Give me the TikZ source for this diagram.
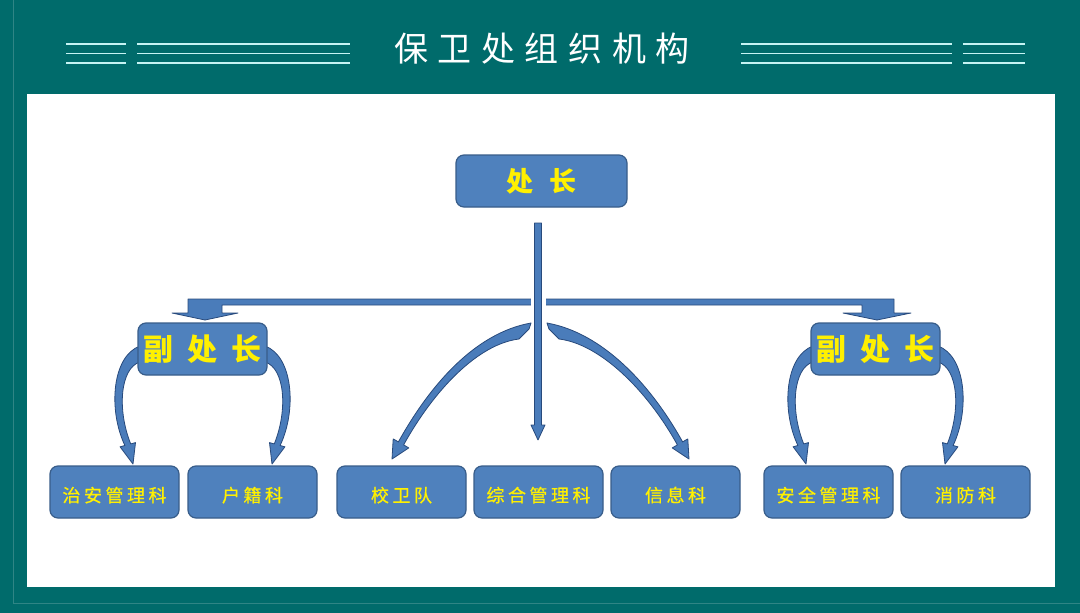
\documentclass[tikz,border=0pt]{standalone}
\usepackage{fontspec}
\newfontfamily\cjk{Noto Sans CJK SC}
\newfontfamily\cjkm[FakeBold=0.6]{Noto Sans CJK SC}
\definecolor{teal0}{HTML}{006B6B}
\definecolor{tealline}{HTML}{2F8585}
\definecolor{boxfill}{HTML}{4F81BD}
\definecolor{boxline}{HTML}{385D8A}
\definecolor{arrfill}{HTML}{4A7CBA}
\definecolor{arrline}{HTML}{284A7C}
\definecolor{hline}{HTML}{C6F4F4}
\definecolor{txtyel}{HTML}{FFF000}
\newcommand\depcurves{%
  \path[arrshape] (140,346) .. controls (112,356) and (108,410) .. (124.9,445.5)
    -- (120.1,446.8) -- (133,464) -- (135.5,442.6) -- (130.7,443.9)
    .. controls (117,410) and (120,368) .. (140,362) -- cycle;
  \path[arrshape] (265,346) .. controls (293,356) and (297,410) .. (280.1,445.5)
    -- (284.9,446.8) -- (272,464) -- (269.5,442.6) -- (274.3,443.9)
    .. controls (288,410) and (285,368) .. (265,362) -- cycle;
}
\begin{document}
\begin{tikzpicture}[x=1pt,y=-1pt,
  orgbox/.style={draw=boxline, fill=boxfill, line width=1.2pt, rounded corners=8pt,
    minimum width=129pt, minimum height=52pt, inner sep=0pt, text=txtyel},
  smallbox/.style={orgbox, text height=22pt, text depth=2pt,
    font=\cjkm\fontsize{18}{18}\selectfont},
  depbox/.style={orgbox, font=\cjk\bfseries\fontsize{30}{30}\selectfont},
  chiefbox/.style={orgbox, minimum width=171pt, font=\cjk\bfseries\fontsize{27}{27}\selectfont},
  arrshape/.style={fill=arrfill, draw=arrline, line width=0.8pt, line join=round},
  deco/.style={draw=hline, line width=1.6pt}
]
\useasboundingbox (0,0) rectangle (1080,613);
\fill[teal0] (0,0) rectangle (1080,613);
\draw[tealline, line width=0.6pt] (13.5,0) -- (13.5,603.5) -- (1080,603.5);
\fill[white] (27,94) rectangle (1055,587);

% header decoration lines
\foreach \yy in {44,53.5,63}{
  \draw[deco] (66,\yy) -- (126,\yy);
  \draw[deco] (137,\yy) -- (350,\yy);
  \draw[deco] (741,\yy) -- (952,\yy);
  \draw[deco] (963,\yy) -- (1025,\yy);
}
\node[text=white, font=\cjk\fontsize{34}{34}\selectfont, inner sep=0pt] (title) at (542,49)
  {保\hspace{9.5pt}卫\hspace{9.5pt}处\hspace{9.5pt}组\hspace{9.5pt}织\hspace{9.5pt}机\hspace{9.5pt}构};

% horizontal bent bar with two block heads
\path[arrshape] (188,299) -- (894,299) -- (894,313) -- (911,313) -- (877,320) -- (843,313)
  -- (862,313) -- (862,305) -- (222,305) -- (222,313) -- (238,313) -- (205,320)
  -- (172,313) -- (188,313) -- cycle;
\fill[white] (530.5,296) rectangle (545.5,308.5);

% vertical arrow
\path[arrshape] (534.5,223) -- (541.5,223) -- (541.5,425) -- (545,425) -- (538,440)
  -- (531,425) -- (534.5,425) -- cycle;

% central curved arrows
\path[arrshape] (531,323) .. controls (475,333) and (430,385) .. (398.4,441.9)
  -- (393.2,438.9) -- (392,459) -- (408.8,447.9) -- (403.6,444.9)
  .. controls (434,390) and (478,344) .. (519,339) -- (529,329) -- cycle;
\path[arrshape] (547,323) .. controls (603,333) and (651,385) .. (682.6,441.9)
  -- (687.8,438.9) -- (689,459) -- (672.2,447.9) -- (677.4,444.9)
  .. controls (647,390) and (600,344) .. (559,339) -- (549,329) -- cycle;

% deputy curved arrows
\depcurves
\begin{scope}[xshift=673pt]
\depcurves
\end{scope}

% boxes
\node[chiefbox] (chief) at (541.5,181) {处\hspace{16pt}长};
\node[depbox] (depL) at (202.5,349) {副\hspace{14pt}处\hspace{14pt}长};
\node[depbox] (depR) at (875.5,349) {副\hspace{14pt}处\hspace{14pt}长};

\node[smallbox] (a1) at (114.5,492) {治\hspace{3.5pt}安\hspace{3.5pt}管\hspace{3.5pt}理\hspace{3.5pt}科};
\node[smallbox] (a2) at (252.5,492) {户\hspace{3.5pt}籍\hspace{3.5pt}科};
\node[smallbox] (b1) at (401.5,492) {校\hspace{3.5pt}卫\hspace{3.5pt}队};
\node[smallbox] (b2) at (538.5,492) {综\hspace{3.5pt}合\hspace{3.5pt}管\hspace{3.5pt}理\hspace{3.5pt}科};
\node[smallbox] (b3) at (675.5,492) {信\hspace{3.5pt}息\hspace{3.5pt}科};
\node[smallbox] (c1) at (828.5,492) {安\hspace{3.5pt}全\hspace{3.5pt}管\hspace{3.5pt}理\hspace{3.5pt}科};
\node[smallbox] (c2) at (965.5,492) {消\hspace{3.5pt}防\hspace{3.5pt}科};
\end{tikzpicture}
\end{document}
